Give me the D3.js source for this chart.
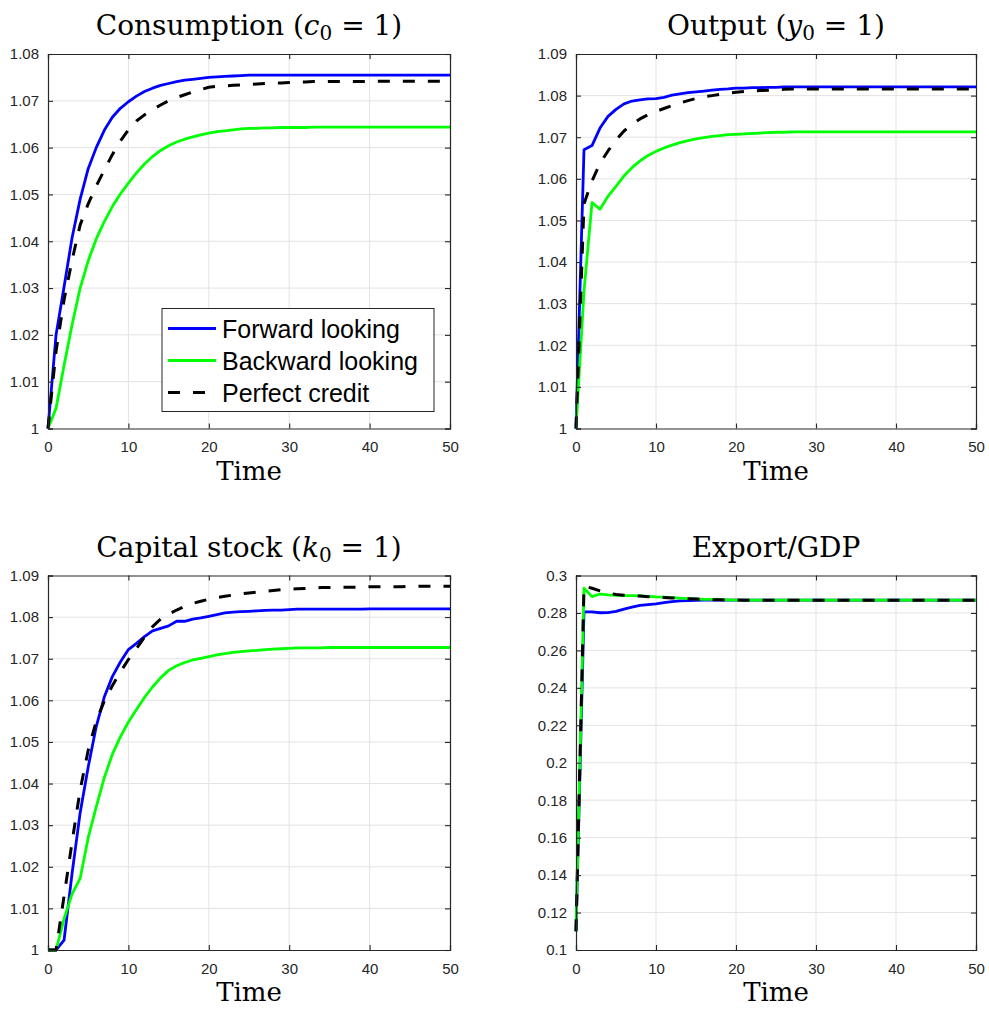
<!DOCTYPE html>
<html>
<head>
<meta charset="utf-8">
<script src="https://cdn.jsdelivr.net/npm/d3@7"></script>
<style>
  body { margin: 0; background: #fff; }
  svg text { fill: #262626; }
  .tick text { font-family: "Liberation Sans", Arial, sans-serif; font-size: 15px; fill: #262626; }
  .title, .xlabel { font-family: "DejaVu Serif", "Liberation Serif", serif; fill: #000; }
  .legend text { font-family: "Liberation Sans", Arial, sans-serif; font-size: 25px; fill: #000; }
</style>
</head>
<body>
<div id="chart"></div>
<script>
// time steps 0..50
const time = d3.range(0, 51);

const xTicks = [0, 10, 20, 30, 40, 50];
const yTicksLevel = [1, 1.01, 1.02, 1.03, 1.04, 1.05, 1.06, 1.07, 1.08, 1.09];
const yTicksExport = [0.1, 0.12, 0.14, 0.16, 0.18, 0.2, 0.22, 0.24, 0.26, 0.28, 0.3];

const seriesNames = ["Forward looking", "Backward looking", "Perfect credit"];

// Consumption
const consForward = [
  1.0000, 1.0200, 1.0303, 1.0408, 1.0490, 1.0555, 1.0600, 1.0637, 1.0665, 1.0684,
  1.0698, 1.0710, 1.0720, 1.0727, 1.0733, 1.0737, 1.0741, 1.0744, 1.0746, 1.0748,
  1.0750, 1.0751, 1.0752, 1.0753, 1.0754, 1.0755, 1.0755, 1.0755, 1.0755, 1.0755,
  1.0755, 1.0755, 1.0755, 1.0755, 1.0755, 1.0755, 1.0755, 1.0755, 1.0755, 1.0755,
  1.0755, 1.0755, 1.0755, 1.0755, 1.0755, 1.0755, 1.0755, 1.0755, 1.0755, 1.0755,
  1.0755];
const consBackward = [
  1.0000, 1.0043, 1.0135, 1.0222, 1.0300, 1.0358, 1.0405, 1.0442, 1.0474, 1.0501,
  1.0524, 1.0546, 1.0565, 1.0581, 1.0594, 1.0604, 1.0612, 1.0618, 1.0623, 1.0627,
  1.0631, 1.0634, 1.0636, 1.0638, 1.0640, 1.0641, 1.0641, 1.0642, 1.0642, 1.0643,
  1.0643, 1.0643, 1.0643, 1.0644, 1.0644, 1.0644, 1.0644, 1.0644, 1.0644, 1.0644,
  1.0644, 1.0644, 1.0644, 1.0644, 1.0644, 1.0644, 1.0644, 1.0644, 1.0644, 1.0644,
  1.0644];
const consPerfect = [
  1.0000, 1.0165, 1.0275, 1.0360, 1.0435, 1.0480, 1.0518, 1.0552, 1.0585, 1.0614,
  1.0638, 1.0657, 1.0670, 1.0681, 1.0691, 1.0700, 1.0707, 1.0713, 1.0719, 1.0724,
  1.0729, 1.0731, 1.0732, 1.0733, 1.0734, 1.0735, 1.0736, 1.0737, 1.0738, 1.0738,
  1.0739, 1.0740, 1.0740, 1.0741, 1.0741, 1.0741, 1.0741, 1.0741, 1.0741, 1.0741,
  1.0742, 1.0742, 1.0742, 1.0742, 1.0742, 1.0742, 1.0742, 1.0742, 1.0742, 1.0742,
  1.0742];

// Output
const outForward = [
  1.0000, 1.0670, 1.0680, 1.0722, 1.0750, 1.0767, 1.0780, 1.0787, 1.0790, 1.0792,
  1.0793, 1.0796, 1.0801, 1.0804, 1.0807, 1.0809, 1.0811, 1.0813, 1.0815, 1.0816,
  1.0818, 1.0818, 1.0819, 1.0819, 1.0820, 1.0820, 1.0821, 1.0821, 1.0821, 1.0821,
  1.0821, 1.0821, 1.0821, 1.0821, 1.0821, 1.0821, 1.0821, 1.0821, 1.0821, 1.0821,
  1.0821, 1.0821, 1.0821, 1.0821, 1.0821, 1.0821, 1.0821, 1.0821, 1.0821, 1.0821,
  1.0821];
const outBackward = [
  1.0000, 1.0330, 1.0543, 1.0527, 1.0558, 1.0582, 1.0607, 1.0627, 1.0643, 1.0656,
  1.0666, 1.0674, 1.0681, 1.0687, 1.0692, 1.0696, 1.0699, 1.0702, 1.0704, 1.0706,
  1.0707, 1.0708, 1.0709, 1.0710, 1.0711, 1.0712, 1.0712, 1.0713, 1.0713, 1.0713,
  1.0713, 1.0713, 1.0713, 1.0713, 1.0713, 1.0713, 1.0713, 1.0713, 1.0713, 1.0713,
  1.0713, 1.0713, 1.0713, 1.0713, 1.0713, 1.0713, 1.0713, 1.0713, 1.0713, 1.0713,
  1.0713];
const outPerfect = [
  1.0000, 1.0540, 1.0595, 1.0637, 1.0667, 1.0693, 1.0715, 1.0731, 1.0744, 1.0754,
  1.0762, 1.0769, 1.0776, 1.0782, 1.0788, 1.0793, 1.0797, 1.0800, 1.0803, 1.0806,
  1.0808, 1.0810, 1.0811, 1.0812, 1.0813, 1.0814, 1.0815, 1.0816, 1.0816, 1.0816,
  1.0816, 1.0816, 1.0816, 1.0816, 1.0816, 1.0816, 1.0816, 1.0816, 1.0816, 1.0816,
  1.0816, 1.0816, 1.0816, 1.0816, 1.0816, 1.0816, 1.0816, 1.0816, 1.0816, 1.0816,
  1.0816];

// Capital stock
const capForward = [
  1.0000, 1.0000, 1.0024, 1.0185, 1.0330, 1.0440, 1.0537, 1.0608, 1.0657, 1.0692,
  1.0722, 1.0737, 1.0753, 1.0767, 1.0773, 1.0779, 1.0790, 1.0790, 1.0795, 1.0798,
  1.0802, 1.0806, 1.0810, 1.0812, 1.0813, 1.0814, 1.0815, 1.0816, 1.0817, 1.0817,
  1.0818, 1.0819, 1.0819, 1.0819, 1.0819, 1.0819, 1.0819, 1.0819, 1.0819, 1.0819,
  1.0820, 1.0820, 1.0820, 1.0820, 1.0820, 1.0820, 1.0820, 1.0820, 1.0820, 1.0820,
  1.0820];
const capBackward = [
  1.0000, 1.0000, 1.0075, 1.0135, 1.0172, 1.0270, 1.0344, 1.0414, 1.0470, 1.0512,
  1.0548, 1.0578, 1.0607, 1.0632, 1.0654, 1.0672, 1.0683, 1.0691, 1.0697, 1.0701,
  1.0705, 1.0709, 1.0712, 1.0715, 1.0717, 1.0719, 1.0720, 1.0722, 1.0723, 1.0724,
  1.0725, 1.0726, 1.0726, 1.0726, 1.0726, 1.0727, 1.0727, 1.0727, 1.0727, 1.0727,
  1.0727, 1.0727, 1.0727, 1.0727, 1.0727, 1.0727, 1.0727, 1.0727, 1.0727, 1.0727,
  1.0727];
const capPerfect = [
  1.0000, 1.0000, 1.0130, 1.0260, 1.0385, 1.0480, 1.0550, 1.0598, 1.0635, 1.0668,
  1.0698, 1.0724, 1.0752, 1.0777, 1.0795, 1.0807, 1.0817, 1.0826, 1.0833, 1.0838,
  1.0843, 1.0847, 1.0850, 1.0853, 1.0856, 1.0858, 1.0860, 1.0862, 1.0864, 1.0866,
  1.0867, 1.0868, 1.0869, 1.0870, 1.0871, 1.0871, 1.0872, 1.0872, 1.0872, 1.0872,
  1.0873, 1.0873, 1.0873, 1.0873, 1.0873, 1.0874, 1.0874, 1.0874, 1.0874, 1.0874,
  1.0874];

// Export/GDP
const expForward = [
  0.1100, 0.2806, 0.2806, 0.2801, 0.2802, 0.2808, 0.2820, 0.2831, 0.2840, 0.2845,
  0.2849, 0.2855, 0.2861, 0.2864, 0.2866, 0.2867, 0.2868, 0.2868, 0.2868, 0.2868,
  0.2868, 0.2868, 0.2868, 0.2868, 0.2868, 0.2868, 0.2868, 0.2868, 0.2868, 0.2868,
  0.2868, 0.2868, 0.2868, 0.2868, 0.2868, 0.2868, 0.2868, 0.2868, 0.2868, 0.2868,
  0.2868, 0.2868, 0.2868, 0.2868, 0.2868, 0.2868, 0.2868, 0.2868, 0.2868, 0.2868,
  0.2868];
const expBackward = [
  0.1100, 0.2932, 0.2887, 0.2901, 0.2896, 0.2894, 0.2893, 0.2892, 0.2891, 0.2889,
  0.2886, 0.2884, 0.2882, 0.2879, 0.2877, 0.2875, 0.2873, 0.2872, 0.2871, 0.2870,
  0.2869, 0.2868, 0.2868, 0.2868, 0.2868, 0.2868, 0.2868, 0.2868, 0.2868, 0.2868,
  0.2868, 0.2868, 0.2868, 0.2868, 0.2868, 0.2868, 0.2868, 0.2868, 0.2868, 0.2868,
  0.2868, 0.2868, 0.2868, 0.2868, 0.2868, 0.2868, 0.2868, 0.2868, 0.2868, 0.2868,
  0.2868];
const expPerfect = [
  0.1100, 0.2943, 0.2932, 0.2918, 0.2906, 0.2899, 0.2895, 0.2892, 0.2890, 0.2887,
  0.2885, 0.2883, 0.2880, 0.2878, 0.2876, 0.2874, 0.2872, 0.2871, 0.2870, 0.2869,
  0.2869, 0.2868, 0.2868, 0.2868, 0.2868, 0.2868, 0.2868, 0.2868, 0.2868, 0.2868,
  0.2868, 0.2868, 0.2868, 0.2868, 0.2868, 0.2868, 0.2868, 0.2868, 0.2868, 0.2868,
  0.2868, 0.2868, 0.2868, 0.2868, 0.2868, 0.2868, 0.2868, 0.2868, 0.2868, 0.2868,
  0.2868];

const width = 989;
const height = 1011;

const styles = [
  { color: "#0000ff", dash: null },
  { color: "#00ff00", dash: null },
  { color: "#000000", dash: "12,13" }
];

// panel layout (pixel boxes)
const panels = [
  { title: ["Consumption (", "c", "0", " = 1)"], left: 48, top: 54, w: 402, h: 374.5,
    yDomain: [1, 1.08], yTicks: yTicksLevel.slice(0, 9), data: [consForward, consBackward, consPerfect], legend: true },
  { title: ["Output (", "y", "0", " = 1)"], left: 576, top: 54, w: 400, h: 374.5,
    yDomain: [1, 1.09], yTicks: yTicksLevel, data: [outForward, outBackward, outPerfect] },
  { title: ["Capital stock (", "k", "0", " = 1)"], left: 48, top: 575.5, w: 402, h: 374.5,
    yDomain: [1, 1.09], yTicks: yTicksLevel, data: [capForward, capBackward, capPerfect] },
  { title: ["Export/GDP"], left: 576, top: 575.5, w: 400, h: 374.5,
    yDomain: [0.1, 0.3], yTicks: yTicksExport, data: [expForward, expBackward, expPerfect] }
];

const svg = d3.select("#chart")
  .append("svg")
  .attr("width", width)
  .attr("height", height);

const fmt = d => String(+d.toFixed(2));

panels.forEach(p => {
  const x = d3.scaleLinear().domain([0, 50]).range([p.left, p.left + p.w]);
  const y = d3.scaleLinear().domain(p.yDomain).range([p.top + p.h, p.top]);
  const g = svg.append("g");

  // grid
  g.append("g").selectAll("line").data(xTicks.slice(1, -1)).join("line")
    .attr("x1", d => x(d)).attr("x2", d => x(d))
    .attr("y1", p.top).attr("y2", p.top + p.h)
    .attr("stroke", "#e3e3e3").attr("stroke-width", 1);
  g.append("g").selectAll("line").data(p.yTicks.slice(1, -1)).join("line")
    .attr("x1", p.left).attr("x2", p.left + p.w)
    .attr("y1", d => y(d)).attr("y2", d => y(d))
    .attr("stroke", "#e3e3e3").attr("stroke-width", 1);

  // lines
  const line = d3.line().x((d, i) => x(time[i])).y(d => y(d));
  p.data.forEach((vals, k) => {
    g.append("path")
      .datum(vals)
      .attr("fill", "none")
      .attr("stroke", styles[k].color)
      .attr("stroke-width", k === 2 ? 3 : 2.8)
      .attr("stroke-dasharray", styles[k].dash)
      .attr("stroke-linejoin", "round")
      .attr("d", line);
  });

  // axes (ticks inside, box on)
  const axes = [
    g.append("g").attr("transform", `translate(0,${p.top + p.h})`)
      .call(d3.axisBottom(x).tickValues(xTicks).tickSize(-5).tickPadding(13).tickFormat(d3.format("d"))),
    g.append("g").attr("transform", `translate(0,${p.top})`)
      .call(d3.axisTop(x).tickValues(xTicks).tickSize(-5).tickFormat("")),
    g.append("g").attr("transform", `translate(${p.left},0)`)
      .call(d3.axisLeft(y).tickValues(p.yTicks).tickSize(-5).tickPadding(9).tickFormat(fmt)),
    g.append("g").attr("transform", `translate(${p.left + p.w},0)`)
      .call(d3.axisRight(y).tickValues(p.yTicks).tickSize(-5).tickFormat(""))
  ];
  axes.forEach(a => {
    a.select(".domain").attr("stroke", "#262626").attr("stroke-width", 1.2);
    a.selectAll(".tick line").attr("stroke", "#262626").attr("stroke-width", 1.1);
    a.attr("font-size", null).attr("font-family", null);
  });

  // title
  const cx = p.left + p.w / 2;
  const t = svg.append("text").attr("class", "title")
    .attr("x", cx).attr("y", p.top - 19)
    .attr("text-anchor", "middle")
    .attr("font-size", 28);
  t.append("tspan").text(p.title[0]);
  if (p.title.length > 1) {
    t.append("tspan").attr("font-style", "italic").text(p.title[1]);
    t.append("tspan").attr("font-size", 20).attr("dy", 5).text(p.title[2]);
    t.append("tspan").attr("dy", -5).text(p.title[3]);
  }

  // x label
  svg.append("text").attr("class", "xlabel")
    .attr("x", cx).attr("y", p.top + p.h + 51)
    .attr("text-anchor", "middle")
    .attr("font-size", 26)
    .text("Time");

  if (p.legend) {
    const lg = svg.append("g").attr("class", "legend");
    const bx = 162, by = 308.5;
    lg.append("rect")
      .attr("x", bx).attr("y", by).attr("width", 272).attr("height", 103)
      .attr("fill", "#fff").attr("stroke", "#262626").attr("stroke-width", 1);
    seriesNames.forEach((name, k) => {
      const ry = by + 20 + k * 32;
      lg.append("line")
        .attr("x1", bx + 6).attr("x2", bx + 54)
        .attr("y1", ry).attr("y2", ry)
        .attr("stroke", styles[k].color)
        .attr("stroke-width", k === 2 ? 3 : 2.8)
        .attr("stroke-dasharray", styles[k].dash);
      lg.append("text")
        .attr("x", bx + 60).attr("y", ry + 9)
        .text(name);
    });
  }
});
</script>
</body>
</html>
